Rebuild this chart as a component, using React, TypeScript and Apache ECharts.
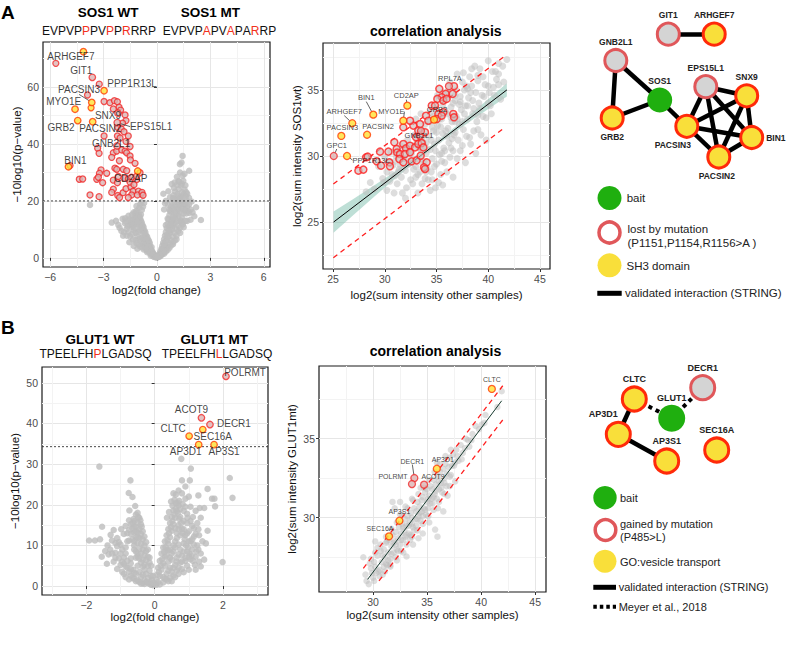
import React, { useEffect, useRef } from 'react';
import * as echarts from 'echarts';

// ---------------- DATA ----------------
const seqA_WT = 'EVPVPPPVPPRRRP';
const seqA_WT_red = [5, 8, 10];
const seqA_MT = 'EVPVPAPVAPARRP';
const seqA_MT_red = [5, 8, 11];
const seqB_WT = 'TPEELFHPLGADSQ';
const seqB_WT_red = [7];
const seqB_MT = 'TPEELFHLLGADSQ';
const seqB_MT_red = [7];

// Volcano A
const volcA_threshold = 20;
const volcA_gray = [
  [-0.05,0.2],[-0.1,0.6],[-0.15,1.0],[-0.2,1.5],[-0.25,2.1],[-0.3,2.7],[-0.35,3.3],[-0.4,4.0],[-0.45,4.6],[-0.5,5.3],[-0.55,6.0],[-0.6,6.8],[-0.65,7.6],[-0.7,8.5],[-0.75,9.3],[-0.8,10.2],[-0.85,11.0],[-0.9,12.0],[-0.95,12.9],[-1.0,13.8],[-1.05,14.8],[-1.1,15.6],[-1.15,16.5],
  [-0.2,0.5],[-0.3,1.2],[-0.4,1.9],[-0.5,2.6],[-0.6,3.4],[-0.7,4.2],[-0.8,5.0],[-0.9,5.9],[-1.0,6.8],[-1.1,7.7],[-1.2,8.8],[-1.3,9.8],[-1.4,10.8],[-1.5,11.5],[-1.25,12.5],[-1.35,13.4],[-0.35,0.8],[-0.55,2.0],[-0.75,3.0],[-0.95,4.0],[-1.15,5.2],[-1.35,6.4],[-1.5,7.5],[-1.6,9.0],[-1.7,10.2],[-0.45,3.0],[-0.65,4.8],[-0.85,7.0],[-1.05,9.2],[-1.25,10.5],[-1.15,11.8],[-0.95,9.8],[-0.75,6.5],[-1.45,13.0],[-1.2,14.2],[-0.9,15.2],[-0.85,16.8],[-0.78,18.0],[-0.95,18.8],[-0.72,19.3],[-1.0,17.5],[-1.3,16.0],[-1.6,14.8],[-1.93,13.7],[-1.79,13.9],[-2.17,11.6],[-2.54,12.4],[-3.76,18.6],[-1.8,12.2],[-2.0,9.5],[-1.9,7.8],[-1.55,5.5],[-1.3,4.2],[-1.1,3.2],[-0.25,1.8],[-0.15,0.3],
  [-0.3,3.8],[-0.4,5.2],[-0.5,6.5],[-0.6,7.8],[-0.7,9.6],[-0.8,11.4],[-0.9,13.2],[-1.0,15.0],[-1.1,14.0],[-1.2,15.8],[-0.45,6.0],[-0.55,7.4],[-0.65,9.0],[-0.75,10.8],[-0.85,12.4],[-0.95,14.2],[-1.05,12.0],[-1.15,13.4],[-1.25,14.6],[-1.35,11.5],[-1.45,12.2],[-1.55,13.5],[-1.65,11.2],[-1.75,12.8],[-0.6,5.5],[-0.7,7.0],[-0.8,8.4],[-0.9,10.4],[-1.0,11.5],[-1.1,12.8],[-0.5,4.0],[-0.4,3.0],[-0.3,2.2],[-0.2,1.2],[-0.1,0.9],[-0.35,1.6],[-0.55,2.5],[-0.65,3.2],[-0.85,3.8],[-1.0,4.8],[-1.2,6.2],[-1.4,8.4],[-1.7,7.8],[-1.85,9.0],[-2.1,10.6],[-2.3,13.0],[-1.4,15.2],[-1.15,18.2],[-0.88,19.6],
  [0.05,0.3],[0.1,0.8],[0.15,1.5],[0.2,2.3],[0.25,3.2],[0.3,4.2],[0.35,5.3],[0.4,6.5],[0.45,7.8],[0.5,9.1],[0.55,10.5],[0.6,12.0],[0.65,13.5],[0.7,15.0],[0.75,16.5],[0.8,18.0],[0.85,19.5],[0.9,21.0],
  [0.2,0.6],[0.3,1.3],[0.4,2.1],[0.5,3.0],[0.6,4.0],[0.7,5.1],[0.8,6.2],[0.9,7.4],[1.0,8.7],[1.1,10.0],[1.2,11.4],[1.3,12.8],[1.4,14.2],[1.5,15.6],[1.6,17.0],[1.7,18.2],[0.45,4.5],[0.55,6.0],[0.65,7.5],[0.75,9.0],[0.85,10.6],[0.95,12.2],[1.05,13.8],[1.15,15.4],[1.25,17.0],[1.35,18.6],[1.45,19.8],[0.7,11.0],[0.8,12.8],[0.9,14.5],[1.0,16.2],[1.1,18.0],[1.2,19.6],[1.3,21.0],[1.0,19.5],[0.95,20.8],[1.55,18.8],[1.65,20.2],[1.75,16.4],[1.81,15.8],[1.89,13.4],[2.47,13.3],[1.3,8.8],[1.1,6.5],[0.9,4.8],[0.35,2.7],[1.5,10.8],[1.7,13.0],[1.45,21.8],
  [0.3,3.0],[0.4,4.8],[0.5,6.0],[0.6,7.2],[0.7,8.8],[0.8,10.0],[0.9,11.3],[1.0,12.0],[1.1,13.2],[1.2,14.6],[1.3,16.2],[1.4,17.6],[1.5,19.0],[0.55,8.0],[0.65,9.6],[0.75,11.8],[0.85,13.4],[0.95,14.0],[1.05,15.6],[1.15,17.2],[1.25,18.8],[1.35,20.2],[0.5,11.5],[0.6,13.8],[0.7,16.8],[0.8,16.2],[0.9,17.4],[1.0,18.0],[1.1,20.4],[1.2,21.6],[1.5,22.4],[1.65,23.0],[1.4,26.0],[1.2,27.0],[1.55,29.5],[1.3,30.0],[1.0,26.5],[1.35,13.0],[1.45,11.8],[1.6,13.0],[1.65,15.6],[1.55,16.8],[1.8,18.8],[1.9,17.0],[2.0,16.0],[2.1,14.6],[1.95,19.8],[2.2,17.8],[0.4,1.5],[0.5,2.2],[0.6,2.8],[0.7,3.5],[0.8,4.4],[0.9,5.5],[1.0,6.0],[1.1,7.8],[1.2,9.5],[1.3,10.6],[1.4,12.4],[0.25,1.4],[0.35,2.0],[0.15,0.7],[0.1,0.3],[0.2,1.0],[-0.05,0.5],[0.0,0.1],[0.03,0.5],
  [1.44,35.8],[1.29,32.9],[1.38,33.5],[1.81,30.6],[1.12,28.5],[1.44,28.9],[0.83,25.9],[1.12,25.6],[1.48,27.1],[0.64,23.4],[0.36,22.5],[0.73,21.3],[0.92,22.0],[1.3,21.2],[1.62,21.6],[1.8,21.1],[1.02,23.3],[1.22,24.1],[1.35,25.4],[1.55,24.0],[1.7,22.5],[0.5,20.0],[0.62,18.6],[0.4,17.0],[0.45,19.2],[1.25,26.8],[1.6,25.5],[0.95,24.6],[1.15,22.4],[1.4,23.0],
];
const volcA_lost = [
  [-5.68,68.3],[-3.24,61.0],[-3.9,57.2],[-2.97,54.9],[-2.64,54.5],[-2.39,55.2],[-2.22,54.8],[-2.13,52.9],[-2.04,51.9],[-2.45,52.3],[-1.79,50.2],[-1.74,48.2],[-1.93,47.3],[-2.2,45.8],[-2.0,45.2],[-1.85,44.3],[-1.61,42.8],[-2.22,42.8],[-2.07,42.1],[-2.97,42.8],[-1.74,40.9],[-3.33,38.5],[-3.25,36.7],[-2.45,36.9],[-2.26,37.5],[-1.98,37.9],[-1.79,37.5],[-1.51,39.1],[-1.7,36.9],[-2.54,35.3],[-2.11,34.1],[-1.51,35.8],[-1.49,34.4],[-1.23,33.2],[-2.36,31.5],[-2.26,31.1],[-1.89,31.1],[-1.7,30.6],[-3.14,30.9],[-3.23,29.7],[-2.82,29.7],[-3.38,27.6],[-3.29,28.3],[-3.05,26.4],[-2.45,27.3],[-2.17,28.6],[-2.22,26.4],[-1.85,28.0],[-1.61,27.7],[-1.42,28.3],[-1.14,27.5],[-0.95,29.9],[-1.14,28.7],[-4.36,27.6],[-4.17,27.7],[-4.88,32.4],[-3.76,22.1],[-3.25,21.5],[-2.45,24.1],[-2.54,23.0],[-2.2,21.9],[-2.1,21.2],[-1.9,22.9],[-1.74,24.3],[-1.46,24.9],[-1.34,23.4],[-1.51,26.6],[-1.29,25.7],[-1.04,23.4],[-0.87,22.5],[-1.42,22.1],[-1.1,22.1],[-0.84,23.0],[-1.61,21.2],[-0.78,22.0],
];
const volcA_sh3 = [[-3.7,52.7]];
const volcA_lab_names = ['ARHGEF7','GIT1','PPP1R13L','PACSIN3','MYO1E','GRB2','SNX9','PACSIN2','EPS15L1','GNB2L1','BIN1','CD2AP'];
const volcA_lab_x = [-4.13,-3.63,-2.97,-3.66,-4.6,-4.45,-2.19,-3.61,-2.23,-2.24,-4.97,-1.08];
const volcA_lab_y = [72.4,63.4,58.7,54.6,52.2,48.2,50.8,47.8,47.5,39.3,32.0,30.5];
const volcA_lab_kind = ['sh3','lost','sh3','sh3','sh3','sh3','lost','sh3','lost','lost','sh3','sh3'];

// Correlation A
const corrA_gray = [
  [29.8,28.3],[30.2,28.8],[30.5,28.1],[30.8,29.3],[31.0,28.5],[31.2,27.9],[31.4,29.0],[31.6,28.4],[31.8,29.8],[32.0,28.9],[32.1,27.6],[32.3,29.4],[32.5,28.2],[32.6,30.2],[32.8,29.0],[33.0,28.4],[33.1,29.8],[33.3,30.6],[33.4,28.8],[33.6,29.5],[33.7,31.0],[33.9,28.3],[34.0,30.2],[34.1,29.1],[34.2,31.5],[34.4,30.5],[34.5,28.8],[34.6,29.8],[34.7,31.9],[34.8,30.9],[34.9,27.6],[35.0,29.4],[35.1,32.3],[35.2,31.2],[35.3,30.1],[35.4,28.6],[35.5,32.8],[35.6,31.7],[35.7,30.6],[35.8,29.5],[35.9,33.3],[36.0,28.8],[36.1,32.1],[36.2,31.0],[36.3,29.9],[36.4,33.7],[36.5,32.6],[36.6,30.4],[36.7,31.6],[36.8,34.2],[36.9,33.0],[37.0,29.8],[37.1,31.2],[37.2,32.4],[37.3,34.5],[37.4,33.5],[37.5,30.8],[37.6,32.0],[37.7,35.0],[37.8,33.8],[37.9,31.5],[38.0,32.8],[38.1,34.4],[38.3,30.9],[38.4,35.3],[38.5,33.2],[38.6,31.9],[38.8,34.8],[38.9,32.6],[39.0,35.7],[39.2,33.6],[39.3,31.6],[39.5,36.0],[39.6,34.5],[39.8,32.9],[40.0,35.3],[40.2,33.8],[40.4,36.4],[40.6,34.6],[40.7,36.4],[41.0,35.4],[41.2,34.3],[41.4,36.8],[41.8,37.3],[29.4,29.2],[30.0,29.9],[30.6,30.3],[31.1,30.0],[31.5,30.8],[32.2,31.2],[32.9,31.6],[33.5,32.0],[34.3,32.6],[35.0,33.4],[35.6,33.9],[36.2,34.5],[36.9,35.0],[37.5,35.6],[38.2,36.0],[32.0,26.8],[33.2,27.2],[34.4,27.4],[35.6,27.8],[36.6,28.4],[37.8,29.5],[38.8,30.2],[39.8,31.2],[33.8,29.6],[34.8,29.2],[35.8,30.4],[36.8,31.8],[34.2,28.2],[35.2,28.0],[30.9,27.2],[31.9,30.6],[32.4,30.8],[33.0,30.9],[33.6,31.4],[34.6,32.2],[35.3,32.8],[36.0,33.2],[36.6,34.0],[37.3,34.1],[38.0,35.1],[39.1,34.0],[40.1,34.8],[28.6,28.0],[29.0,27.5],[28.2,27.3],[33.5,33.2],[35.1,34.6],[37.0,36.2],[38.7,36.8],[36.3,35.6],[40.0,37.2],[41.0,37.0],[39.2,36.6],
  [30.5,29.6],[31.0,29.6],[31.5,29.3],[32.0,29.8],[32.5,29.5],[33.0,29.2],[33.5,30.5],[34.0,31.0],[34.5,31.2],[35.0,31.8],[35.5,30.2],[36.0,31.5],[36.5,31.3],[37.0,32.8],[37.5,32.6],[38.0,33.8],[38.5,34.2],[39.0,33.1],[39.5,33.0],[40.0,34.0],[40.5,35.2],[41.0,36.2],[31.7,27.2],[32.7,27.9],[33.6,27.9],[34.6,28.2],[35.5,29.6],[36.4,30.6],[37.3,30.4],[38.2,31.4],[39.0,32.0],[40.3,33.2],[33.2,28.6],[34.0,28.8],[34.9,30.4],[35.9,31.9],[36.8,32.6],[37.7,33.2],[38.6,33.6],[39.4,34.6],[40.8,35.8],[41.5,35.6],[32.3,30.2],[33.9,30.7],[35.4,32.2],[36.4,32.9],[37.2,33.9],[38.3,34.8],[39.7,35.4],[30.2,27.4],[31.3,28.8],[29.9,28.0],[30.7,28.6],[34.7,33.0],[35.8,33.5],[36.8,34.6],[37.9,35.3],[39.0,36.1],[33.9,32.4],[34.4,33.3],[36.1,34.9],[37.6,36.3],[38.4,36.6],[35.6,34.8],[33.0,32.8],
];
const corrA_lost = [
  [36.69,35.28],[35.27,35.08],[35.89,34.7],[35.5,34.45],[35.08,34.32],[35.66,34.19],[35.98,34.32],[36.56,34.7],[34.54,33.81],[34.86,33.81],[33.99,33.05],[34.21,32.67],[33.41,32.42],[32.76,32.3],[33.24,31.92],[35.18,33.18],[35.66,33.31],[36.62,33.18],[36.69,32.93],[35.02,32.8],[35.5,33.05],[32.44,32.67],[33.02,31.42],[33.41,31.54],[33.89,31.8],[31.79,32.17],
  [30.92,31.04],[29.54,30.33],[30.35,30.33],[31.15,30.53],[31.2,30.27],[31.79,30.91],[32.05,30.58],[32.44,30.78],[32.92,30.65],[33.24,30.91],[33.57,30.98],[33.73,30.65],[31.47,30.15],[31.95,30.15],[32.44,30.28],[31.41,29.77],[31.79,29.52],[32.6,29.6],[33.08,29.67],[33.47,30.02],[34.05,29.52],[33.79,29.14],[33.89,29.02],[29.22,29.6],[29.64,29.27],[30.44,29.52],[30.5,29.22],[28.19,29.9],[28.35,29.95],[27.45,28.89],[27.93,28.97],
];
const corrA_lab_names = ['RPL7A','CD2AP','BIN1','MYO1E','ARHGEF7','PACSIN3','PACSIN2','GPC1','PPP1R13L','GRB2','GNB2L1'];
const corrA_lab_x = [36.2,32.18,28.89,31.79,26.86,25.8,28.29,25.07,26.35,34.76,33.5];
const corrA_lab_y = [35.28,33.81,33.13,32.67,32.48,31.52,31.61,30.0,30.0,32.75,31.9];
const corrA_lab_kind = ['lost','sh3','sh3','sh3','sh3','sh3','sh3','lost','sh3','sh3','lost'];
const corrA_fit = [[25.05,25.0],[41.8,35.0]];
const corrA_upper = [[25.03,27.88],[41.5,37.5]];
const corrA_lower = [[25.03,22.3],[41.5,32.1]];
const corrA_ciX = [25.05,27,29,31,33,35,37,39,41.8];
const corrA_ciLo = [24.2,25.56,26.94,28.28,29.58,30.79,31.93,33.03,34.5];
const corrA_ciHi = [25.8,26.76,27.78,28.82,29.92,31.09,32.33,33.63,35.5];

// Volcano B
const volcB_threshold = 34.3;
const volcB_gray = [
  [-1.62,29.4],[-0.71,26.0],[-0.76,22.9],[-0.65,21.9],[-0.57,19.7],[-0.74,18.6],[-1.54,14.6],[-1.92,11.2],[-1.75,11.2],[0.78,31.3],[1.06,28.9],[0.8,26.0],[1.03,26.0],[1.55,23.9],[1.28,22.3],[1.68,21.5],[1.75,21.5],[2.2,26.6],[2.28,21.7],[1.77,19.6],[1.32,19.2],[1.45,19.2],[1.55,13.6],[1.99,5.9],
  [-1.29,12.6],[-1.1,11.8],[-1.2,13.8],[-0.98,14.0],[-0.9,12.8],[-1.38,10.0],[-1.3,9.0],[-1.15,8.2],[-1.0,10.2],[-0.85,9.5],[-1.05,6.8],[-0.9,5.5],[-1.2,6.0],[-0.8,4.5],[-0.7,6.8],[-0.75,11.2],[-0.6,9.0],[-0.55,7.0],[-0.5,5.0],[-0.62,4.0],[-0.45,3.5],[-0.4,2.2],[-0.35,2.8],[-0.3,1.5],[-0.25,1.0],[-0.2,0.8],[-0.15,0.5],[-0.1,0.3],[-0.05,0.2],
  [-0.1,2.5],[-0.15,3.8],[-0.2,5.0],[-0.25,6.4],[-0.3,7.6],[-0.35,9.0],[-0.4,10.4],[-0.45,11.8],[-0.5,13.2],[-0.55,14.6],[-0.6,16.0],[-0.5,15.6],[-0.45,14.0],[-0.4,12.8],[-0.35,11.5],[-0.3,10.0],[-0.25,8.6],[-0.2,7.2],[-0.15,5.8],[-0.4,8.0],[-0.45,9.2],[-0.5,10.6],[-0.55,12.0],[-0.6,13.2],[-0.65,14.2],[-0.7,15.2],[-0.3,5.2],[-0.35,6.5],[-0.5,8.0],[-0.6,11.0],[-0.8,13.0],[-0.85,14.8],[-0.62,16.5],[-0.55,17.6],[-0.42,16.2],[-0.38,14.6],
  [-0.95,3.5],[-0.85,2.2],[-0.7,2.6],[-0.6,1.8],[-0.5,1.4],[-0.55,3.0],[-0.75,3.5],[-1.4,5.5],[-1.55,7.2],[-1.35,7.8],[-1.45,8.6],[-1.6,11.5],[-1.1,4.2],
  [-0.2,2.0],[-0.25,3.0],[-0.3,4.0],[-0.35,4.8],[-0.4,5.8],[-0.45,6.8],[-0.5,7.2],[-0.55,8.5],[-0.6,10.0],[-0.65,11.5],[-0.7,12.8],[-0.75,13.8],[-0.8,11.0],[-0.85,8.0],[-0.9,7.0],[-0.95,9.0],[-1.0,8.0],[-1.05,10.8],[-1.1,9.8],[-1.15,10.6],[-1.25,11.2],[-0.7,5.6],[-0.8,6.2],[-0.9,3.0],[-1.0,5.2],[-0.65,2.0],[-0.75,1.6],[-0.45,1.0],[-0.35,0.7],[-0.55,1.2],[-0.3,0.5],[-0.4,0.6],[-0.6,3.2],[-0.7,4.2],[-0.85,4.8],[-0.95,6.0],[-1.15,7.0],[-1.25,8.0],[-0.5,12.0],[-0.55,13.5],[-0.65,15.5],[-0.45,16.8],[-0.5,18.0],[-0.35,13.5],[-0.3,12.2],[-0.25,10.8],[-0.2,9.0],[-0.15,7.0],[-0.1,5.0],[-0.05,2.5],[-0.08,1.5],[-0.12,1.0],[-0.03,0.8],[-0.6,14.6],[-0.75,16.2],[-0.4,15.2],[-0.48,17.0],
  [0.05,0.3],[0.1,1.0],[0.15,2.5],[0.2,4.0],[0.25,5.6],[0.3,7.2],[0.35,8.8],[0.4,10.4],[0.45,12.0],[0.5,13.6],[0.55,15.2],[0.6,16.8],[0.65,18.4],[0.7,19.8],[0.55,18.6],[0.5,17.0],[0.45,15.5],[0.4,14.0],[0.35,12.5],[0.3,11.0],[0.25,9.5],[0.2,8.0],[0.15,6.2],[0.1,4.5],[0.62,20.4],[0.72,21.0],[0.52,19.8],[0.48,20.8],[0.58,21.2],[0.42,18.2],[0.36,16.8],[0.82,20.2],[0.9,19.5],[0.75,17.0],[0.7,15.0],[0.85,16.0],[0.65,13.0],[0.8,14.0],[0.95,15.5],[0.6,11.0],[0.7,10.2],[0.9,12.5],[1.0,13.5],[0.55,8.5],[0.75,9.0],[0.85,10.5],[1.05,11.0],[1.15,12.2],[0.5,6.5],[0.65,7.0],[0.8,7.5],[0.95,8.5],[1.1,9.0],[1.25,10.0],[0.45,4.5],[0.6,5.2],[0.75,5.8],[0.9,6.2],[1.05,6.6],[1.2,7.2],[1.3,6.0],[0.35,3.0],[0.5,3.5],[0.65,3.8],[0.8,4.2],[1.0,4.0],[0.3,1.8],[0.45,2.0],[0.6,2.2],[0.25,0.9],[0.4,1.2],[0.15,0.4],[1.12,17.0],[1.25,15.5],[1.35,16.8],[1.28,14.0],[1.5,10.5],[1.35,8.0],[1.1,14.8],[0.95,17.8],[1.05,19.5],[1.2,18.5],[0.7,23.5],[0.62,22.5],[0.8,22.8],[0.55,22.8],[0.9,24.5],
  [0.02,0.5],[0.05,1.6],[0.08,2.8],[0.12,3.5],[0.18,5.0],[0.22,6.6],[0.28,8.4],[0.32,9.6],[0.38,11.2],[0.42,13.0],[0.48,14.5],[0.52,16.0],[0.58,17.6],[0.62,19.0],[0.68,18.0],[0.72,16.5],[0.78,15.5],[0.82,13.0],[0.88,11.5],[0.92,10.0],[0.98,9.5],[1.02,8.0],[1.08,7.5],[1.12,6.2],[1.18,5.2],[1.22,8.5],[1.28,9.0],[0.25,2.2],[0.35,1.6],[0.5,1.2],[0.55,2.6],[0.7,3.0],[0.85,3.4],[0.95,5.0],[0.7,4.5],[0.55,4.5],[0.4,3.8],[0.3,5.0],[0.4,6.0],[0.45,7.0],[0.5,8.0],[0.55,10.0],[0.6,9.5],[0.65,11.8],[0.75,12.5],[0.85,14.0],[0.95,13.0],[1.0,11.0],[1.1,11.5],[1.15,10.2],[1.2,12.8],[0.35,7.5],[0.45,9.0],[0.4,8.8],[0.6,14.2],[0.7,14.0],[0.75,19.0],[0.68,20.5],[0.85,18.5],[0.9,21.5],[1.0,22.0],[0.96,16.8],[1.05,16.0],[1.15,14.2],[1.3,12.5],[1.4,11.0],[1.45,6.5],[1.2,4.0],[1.35,4.8],[0.65,6.0],[0.8,6.0],[0.9,7.0],[1.0,7.2],[0.7,7.8],[0.85,8.5],
];
const volcB_lab_names = ['POLRMT','ACOT9','DECR1','SEC16A','CLTC','AP3D1','AP3S1'];
const volcB_lab_x = [2.09,1.37,1.62,1.41,1.01,1.29,1.74];
const volcB_lab_y = [51.6,41.4,39.75,38.5,36.9,34.8,34.8];
const volcB_lab_kind = ['lost','lost','lost','sh3','sh3','sh3','sh3'];

// Correlation B
const corrB_gray = [
  [29.3,26.4],[29.6,25.8],[29.8,26.8],[30.0,26.2],[30.1,27.2],[30.3,26.5],[30.4,27.6],[30.6,26.7],[30.7,27.9],[30.8,27.2],[31.0,26.9],[31.0,28.0],[31.1,27.5],[31.2,28.4],[31.3,27.0],[31.4,27.8],[31.5,28.6],[31.6,27.4],[31.7,28.2],[31.8,28.9],[31.9,27.8],[32.0,28.5],[32.1,29.1],[32.2,28.0],[32.3,28.7],[32.4,29.4],[32.5,28.3],[32.5,31.0],[32.6,29.0],[32.7,29.6],[32.8,28.6],[32.9,29.2],[33.0,29.9],[33.0,28.8],[33.1,29.5],[33.2,30.1],[33.3,29.0],[33.4,29.7],[33.5,30.3],[33.5,28.9],[33.6,30.0],[33.7,29.4],[33.8,30.6],[33.9,29.9],[34.0,30.4],[34.0,29.5],[34.1,31.0],[34.2,30.1],[34.3,30.7],[34.4,29.8],[34.5,31.1],[34.5,30.4],[34.6,31.3],[34.7,30.6],[34.8,31.6],[34.9,30.2],[35.0,31.0],[35.0,31.8],[35.1,30.6],[35.2,31.4],[35.3,32.0],[35.4,31.2],[35.5,31.8],[35.5,30.9],[35.6,32.4],[35.7,31.5],[35.8,32.1],[35.9,31.2],[36.0,32.6],[36.1,31.8],[36.2,32.9],[36.3,32.2],[36.4,31.6],[36.5,33.1],[36.6,32.5],[36.7,33.4],[36.8,32.0],[37.0,33.2],[37.1,33.8],[37.2,32.7],[37.4,34.0],[37.5,33.3],[37.7,34.3],[37.9,33.6],[38.1,34.6],[38.3,34.1],[38.6,35.0],[38.9,34.5],[39.2,35.3],[39.5,35.8],[40.06,35.9],[40.4,36.5],[41.5,37.0],[41.9,38.0],
  [29.1,27.5],[29.7,27.1],[32.5,30.2],[35.74,29.25],[35.96,28.8],[36.5,30.4],[31.27,28.5],[33.43,28.6],[34.2,28.7],[33.1,27.55],[30.2,28.5],[32.0,30.6],[31.8,31.0],[30.9,26.4],[31.6,26.9],[32.2,27.3],[32.8,27.8],[33.7,28.3],[34.6,29.0],[35.2,29.7],[36.0,30.6],[36.9,31.4],[37.6,32.3],[34.4,31.9],[33.6,31.2],[35.9,33.5],[33.0,30.7],
  [29.4,26.0],[29.9,26.5],[30.2,26.9],[30.5,26.6],[30.9,27.6],[31.2,27.1],[31.4,27.3],[31.7,27.7],[31.9,28.4],[32.1,28.3],[32.3,27.9],[32.6,28.6],[32.8,29.4],[33.1,28.9],[33.3,29.5],[33.6,29.6],[33.8,29.2],[34.1,29.9],[34.3,30.3],[34.6,30.1],[34.8,30.5],[35.1,31.2],[35.3,30.9],[35.6,31.3],[35.8,31.7],[36.1,32.3],[36.3,31.9],[36.6,32.2],[36.8,32.8],[37.1,32.6],[37.3,33.3],[37.6,33.5],[37.8,33.9],[38.2,33.7],[38.5,34.4],[38.8,34.9],[39.1,34.9],[39.8,35.6],[40.3,36.0],[30.1,26.0],[30.6,26.3],[31.1,26.6],[31.6,27.0],[32.1,27.5],[32.6,27.9],[33.1,28.3],[33.6,28.8],[34.1,29.2],[34.6,29.6],[35.1,30.1],[35.6,30.5],[36.1,31.0],[36.6,31.5],[37.1,32.0],[30.2,27.8],[30.7,28.3],[31.2,28.8],[31.7,29.3],[32.2,29.7],[32.7,30.2],[33.2,30.6],[33.7,31.1],[34.2,31.5],[34.7,31.9],[35.2,32.4],[35.7,32.9],[36.2,33.4],[36.7,33.9],[37.2,34.3],[29.8,27.4],[30.4,28.1],
];
const corrB_lab_names = ['CLTC','AP3D1','DECR1','POLRMT','ACOT9','AP3S1','SEC16A'];
const corrB_lab_x = [40.99,35.9,33.82,33.6,34.72,32.44,31.48];
const corrB_lab_y = [38.15,33.1,32.51,32.13,32.09,29.81,28.82];
const corrB_lab_kind = ['sh3','sh3','lost','lost','lost','sh3','sh3'];
const corrB_fit = [[29.5,26.1],[41.9,37.4]];
const corrB_upper = [[29.1,26.8],[42.0,38.35]];
const corrB_lower = [[30.55,26.0],[42.07,36.25]];

// Networks
const netA_names = ['GIT1','ARHGEF7','GNB2L1','SOS1','GRB2','EPS15L1','SNX9','PACSIN3','BIN1','PACSIN2'];
const netA_kind = ['lost','sh3','lost','bait','sh3','lost','sh3','sh3','sh3','sh3'];
const netA_links = [
  ['GIT1','ARHGEF7'],['GNB2L1','SOS1'],['GNB2L1','GRB2'],['GRB2','SOS1'],['SOS1','PACSIN3'],
  ['PACSIN3','EPS15L1'],['PACSIN3','SNX9'],['PACSIN3','BIN1'],['PACSIN3','PACSIN2'],
  ['EPS15L1','SNX9'],['EPS15L1','BIN1'],['EPS15L1','PACSIN2'],['SNX9','BIN1'],['SNX9','PACSIN2'],['BIN1','PACSIN2'],
];
const netB_names = ['CLTC','DECR1','GLUT1','AP3D1','AP3S1','SEC16A'];
const netB_kind = ['sh3','lost','bait','sh3','sh3','sh3'];
const netB_links = [['CLTC','AP3D1'],['AP3D1','AP3S1'],['CLTC','GLUT1'],['GLUT1','DECR1']];
const netB_linkKind = ['validated','validated','meyer','meyer'];

// ---------------- LAYOUT (positions / styles) ----------------
const FONT = '"Liberation Sans", Arial, Helvetica, sans-serif';
const YELLOW = '#f9df3a';
const RED_BORDER = '#ff2a0a';
const PINK_BORDER = '#e0575a';
const GREEN = '#1faf0f';
const GRAYNODE = '#d4d4d4';

const netA_pos = {
  GIT1: [668.3, 34.2], ARHGEF7: [714.2, 34.2], GNB2L1: [615.8, 60.5], SOS1: [659.7, 100], GRB2: [612.2, 118],
  EPS15L1: [705.8, 86.7], SNX9: [746.7, 95.8], PACSIN3: [686.8, 126.3], BIN1: [751.7, 137.5], PACSIN2: [718.8, 157],
};
const netA_lab = {
  GIT1: ['top', [0, 0]], ARHGEF7: ['top', [0, 0]], GNB2L1: ['top', [0, 0]], SOS1: ['top', [0, 0]], GRB2: ['bottom', [0, 0]],
  EPS15L1: ['top', [0, 0]], SNX9: ['top', [0, 0]], PACSIN3: ['bottom', [-14, 0]], BIN1: ['right', [0, 0]], PACSIN2: ['bottom', [-2, 0]],
};
const netB_pos = {
  CLTC: [634.3, 399], DECR1: [702.7, 387.7], GLUT1: [671.7, 418.3], AP3D1: [618.3, 434.3], AP3S1: [666.7, 461], SEC16A: [716.7, 450],
};
const netB_lab = {
  CLTC: ['top', [0, 0]], DECR1: ['top', [0, 0]], GLUT1: ['top', [0, 0]], AP3D1: ['top', [-15, 0]], AP3S1: ['top', [0, 0]], SEC16A: ['top', [0, 0]],
};

const volcA_off = {
  ARHGEF7: [-12.5, 5], GIT1: [-11, -6.6], PPP1R13L: [28, -7.4], PACSIN3: [-12.7, -13], MYO1E: [-11.3, -7.6], GRB2: [-16.7, 7],
  SNX9: [-10, 2.7], PACSIN2: [7.6, 6.6], EPS15L1: [34, 4], GNB2L1: [-6, -2], BIN1: [7, -6], CD2AP: [-7, 7],
};
const volcA_leaders = ['PACSIN3', 'EPS15L1'];
const volcB_off = {
  POLRMT: [19, -4], ACOT9: [-10, -8], DECR1: [24, -1], SEC16A: [10, 7], CLTC: [-16, -8], AP3D1: [-13, 7], AP3S1: [10, 7],
};
const corrA_off = {
  RPL7A: [1, -8], CD2AP: [-1, -10], BIN1: [-7, -17], MYO1E: [-12, -9], ARHGEF7: [-8, -11.6], PACSIN3: [1, -8],
  PACSIN2: [11, -8], GPC1: [3, -11], PPP1R13L: [24, 4], GRB2: [3, -10], GNB2L1: [-2, 5],
};
const corrA_leaders = ['CD2AP', 'BIN1', 'MYO1E', 'ARHGEF7', 'GPC1', 'PPP1R13L'];
const corrB_off = {
  CLTC: [0, -9], AP3D1: [6, -9], DECR1: [-2, -17], POLRMT: [-19, -8], ACOT9: [9, -8], AP3S1: [0, -9], SEC16A: [-9, -8],
};
const corrB_leaders = ['DECR1'];

const fmtMinus = (v) => (v < 0 ? '\u2212' + Math.abs(v) : String(v));

function axisPair(kind, grid, min, max, major, minor, name, nameGap) {
  const main = {
    type: 'value', gridIndex: grid, min, max,
    position: kind === 'x' ? 'bottom' : 'left',
    name, nameLocation: 'middle', nameGap,
    nameTextStyle: { fontFamily: FONT, fontSize: 11.5, color: '#111' },
    axisLine: { show: false },
    axisTick: { show: true, length: 3, customValues: major, lineStyle: { color: '#333', width: 1 } },
    axisLabel: { show: true, customValues: major, formatter: fmtMinus, color: '#4d4d4d', fontFamily: FONT, fontSize: 10.5, margin: 4 },
    splitLine: { show: true, lineStyle: { color: '#e6e6e6', width: 1 } },
  };
  const minorAx = {
    type: 'value', gridIndex: grid, min, max,
    position: kind === 'x' ? 'top' : 'right',
    axisLine: { show: false },
    axisTick: { show: false, customValues: minor },
    axisLabel: { show: false },
    splitLine: { show: true, lineStyle: { color: '#f3f3f3', width: 1 } },
  };
  return [main, minorAx];
}

const ringStyle = { color: '#dcb4b4', borderColor: '#f02a2a', borderWidth: 1.3 };
const yellowStyle = { color: '#ffe135', borderColor: '#ff3b00', borderWidth: 1.3 };

function labeledSeries(axis, names, xs, ys, kinds, offsets, leaders, fontSize, size) {
  return {
    type: 'scatter', xAxisIndex: axis, yAxisIndex: axis, symbolSize: size, silent: true, z: 5,
    data: names.map((n, i) => ({
      name: n, value: [xs[i], ys[i]],
      itemStyle: kinds[i] === 'sh3' ? yellowStyle : ringStyle,
      labelLine: { show: leaders.indexOf(n) >= 0, lineStyle: { color: '#222', width: 0.7 } },
    })),
    label: { show: true, position: 'inside', formatter: '{b}', fontSize, fontFamily: FONT, color: '#111' },
    labelLine: { show: false, lineStyle: { color: '#222', width: 0.7 } },
    labelLayout: (p) => {
      const o = offsets[names[p.dataIndex]] || [0, 0];
      return { dx: o[0], dy: o[1] };
    },
  };
}

function lineSeries(axis, data, color, width, type) {
  return {
    type: 'line', xAxisIndex: axis, yAxisIndex: axis, data, showSymbol: false, symbol: 'none', silent: true,
    lineStyle: { color, width, type }, z: 3,
  };
}

function nodeStyle(kind, big) {
  if (kind === 'bait') return { symbolSize: big ? 27 : 25, itemStyle: { color: GREEN, borderWidth: 0 } };
  if (kind === 'lost') return { symbolSize: big ? 24 : 22, itemStyle: { color: GRAYNODE, borderColor: PINK_BORDER, borderWidth: 3 } };
  return { symbolSize: big ? 24 : 22, itemStyle: { color: YELLOW, borderColor: RED_BORDER, borderWidth: 3 } };
}

function graphSeries(names, kinds, pos, labs, links, linkKinds, big) {
  return {
    type: 'graph', coordinateSystem: 'cartesian2d', xAxisIndex: 8, yAxisIndex: 8, layout: 'none', silent: true,
    emphasis: { disabled: true },
    data: names.map((n, i) => {
      const st = nodeStyle(kinds[i], big);
      return {
        name: n, value: pos[n], symbolSize: st.symbolSize, itemStyle: st.itemStyle,
        label: { show: true, position: labs[n][0], offset: labs[n][1], distance: 2 },
      };
    }),
    links: links.map((l, i) => ({
      source: names.indexOf(l[0]), target: names.indexOf(l[1]),
      lineStyle: linkKinds && linkKinds[i] === 'meyer' ? { type: [4, 4], width: 4, color: '#000', opacity: 1 } : { width: 4.5, color: '#000', opacity: 1 },
    })),
    lineStyle: { color: '#000', width: 4.5, opacity: 1, curveness: 0 },
    label: { show: true, formatter: '{b}', fontSize: big ? 9 : 8.5, fontWeight: 'bold', color: '#222', fontFamily: FONT },
    z: 4,
  };
}

function seqRich(seq, red) {
  let s = '';
  for (let i = 0; i < seq.length; i++) s += (red.indexOf(i) >= 0 ? '{r|' : '{k|') + seq[i] + '}';
  return s;
}

function textEl(text, x, y, size, weight, align, color) {
  return {
    type: 'text', x, y, silent: true,
    style: {
      text, fontSize: size, fontWeight: weight || 'normal', fontFamily: FONT, fill: color || '#111',
      textAlign: align || 'center', textVerticalAlign: 'middle', align: align || 'center', verticalAlign: 'middle',
    },
  };
}

function seqEl(seq, red, x, y) {
  return {
    type: 'text', x, y, silent: true,
    style: {
      text: seqRich(seq, red), fontSize: 12, fontFamily: FONT, fill: '#111',
      textAlign: 'center', textVerticalAlign: 'middle', align: 'center', verticalAlign: 'middle',
      rich: {
        k: { fill: '#111', color: '#111', fontSize: 12, fontFamily: FONT },
        r: { fill: '#f2311d', color: '#f2311d', fontSize: 12, fontFamily: FONT },
      },
    },
  };
}

function circleEl(cx, cy, r, fill, stroke, lw) {
  return { type: 'circle', silent: true, shape: { cx, cy, r }, style: { fill, stroke: stroke || null, lineWidth: lw || 0 } };
}
function lineEl(x1, y1, x2, y2, w, dash) {
  return { type: 'line', silent: true, shape: { x1, y1, x2, y2 }, style: { stroke: '#000', lineWidth: w, lineDash: dash || null } };
}

function buildOption() {
  const [ax0, ax0m] = axisPair('x', 0, -6.4, 6.35, [-6, -3, 0, 3, 6], [-4.5, -1.5, 1.5, 4.5], 'log2(fold change)', 17);
  const [ay0, ay0m] = axisPair('y', 0, -3.2, 75.8, [0, 20, 40, 60], [10, 30, 50, 70], '\u221210log10(p\u2212value)', 18);
  const [ax1, ax1m] = axisPair('x', 1, 24.03, 45.97, [25, 30, 35, 40, 45], [27.5, 32.5, 37.5, 42.5], 'log2(sum intensity other samples)', 20);
  const [ay1, ay1m] = axisPair('y', 1, 21.45, 38.55, [25, 30, 35], [22.5, 27.5, 32.5, 37.5], 'log2(sum intensity SOS1wt)', 19);
  const [ax2, ax2m] = axisPair('x', 2, -3.3, 3.32, [-2, 0, 2], [-3, -1, 1, 3], 'log2(fold change)', 16);
  const [ay2, ay2m] = axisPair('y', 2, -2.2, 53.9, [0, 10, 20, 30, 40, 50], [5, 15, 25, 35, 45], '\u221210log10(p\u2212value)', 21);
  const [ax3, ax3m] = axisPair('x', 3, 25, 46, [30, 35, 40, 45], [27.5, 32.5, 37.5, 42.5], 'log2(sum intensity other samples)', 17);
  const [ay3, ay3m] = axisPair('y', 3, 25.3, 39.6, [30, 35], [27.5, 32.5, 37.5], 'log2(sum intensity GLUT1mt)', 21);
  const netX = { type: 'value', gridIndex: 4, min: 0, max: 791, show: false };
  const netY = { type: 'value', gridIndex: 4, min: 0, max: 648, inverse: true, show: false };

  const gridBase = { show: true, borderColor: '#1a1a1a', borderWidth: 1.2, backgroundColor: 'transparent' };

  const grayV = { color: '#bdbdbd' };
  const series = [
    // Volcano A
    { type: 'scatter', xAxisIndex: 0, yAxisIndex: 0, data: volcA_gray, symbolSize: 6.5, itemStyle: grayV, silent: true },
    lineSeries(0, [[-6.4, volcA_threshold], [6.35, volcA_threshold]], '#333', 0.9, [2, 2]),
    { type: 'scatter', xAxisIndex: 0, yAxisIndex: 0, data: volcA_lost, symbolSize: 6, itemStyle: ringStyle, silent: true, z: 4 },
    { type: 'scatter', xAxisIndex: 0, yAxisIndex: 0, data: volcA_sh3, symbolSize: 6, itemStyle: yellowStyle, silent: true, z: 4 },
    labeledSeries(0, volcA_lab_names, volcA_lab_x, volcA_lab_y, volcA_lab_kind, volcA_off, volcA_leaders, 10, 6.5),
    // Correlation A
    {
      type: 'custom', xAxisIndex: 2, yAxisIndex: 2, silent: true, z: 2,
      data: corrA_ciX.map((x, i) => [x, corrA_ciLo[i], corrA_ciHi[i]]),
      encode: { x: 0, y: [1, 2] },
      renderItem: (params, api) => {
        if (params.dataIndex !== 0) return { type: 'group', children: [] };
        const pts = [];
        for (let i = 0; i < corrA_ciX.length; i++) pts.push(api.coord([corrA_ciX[i], corrA_ciHi[i]]));
        for (let i = corrA_ciX.length - 1; i >= 0; i--) pts.push(api.coord([corrA_ciX[i], corrA_ciLo[i]]));
        return { type: 'polygon', shape: { points: pts }, style: { fill: 'rgba(110,185,165,0.45)' } };
      },
    },
    { type: 'scatter', xAxisIndex: 2, yAxisIndex: 2, data: corrA_gray, symbolSize: 7, itemStyle: { color: 'rgba(190,190,190,0.65)' }, silent: true },
    lineSeries(2, corrA_fit, '#000', 1, 'solid'),
    lineSeries(2, corrA_upper, '#ff2020', 1.3, [5, 4]),
    lineSeries(2, corrA_lower, '#ff2020', 1.3, [5, 4]),
    { type: 'scatter', xAxisIndex: 2, yAxisIndex: 2, data: corrA_lost, symbolSize: 7, itemStyle: { color: 'rgba(205,190,190,0.8)', borderColor: '#ff2020', borderWidth: 1.5 }, silent: true, z: 4 },
    labeledSeries(2, corrA_lab_names, corrA_lab_x, corrA_lab_y, corrA_lab_kind, corrA_off, corrA_leaders, 7.5, 7),
    // Volcano B
    { type: 'scatter', xAxisIndex: 4, yAxisIndex: 4, data: volcB_gray, symbolSize: 6.5, itemStyle: grayV, silent: true },
    lineSeries(4, [[-3.3, volcB_threshold], [3.32, volcB_threshold]], '#333', 0.9, [2, 2]),
    labeledSeries(4, volcB_lab_names, volcB_lab_x, volcB_lab_y, volcB_lab_kind, volcB_off, [], 10, 6.5),
    // Correlation B
    { type: 'scatter', xAxisIndex: 6, yAxisIndex: 6, data: corrB_gray, symbolSize: 6.5, itemStyle: { color: 'rgba(185,185,185,0.6)' }, silent: true },
    lineSeries(6, corrB_fit, '#163a2e', 1, 'solid'),
    lineSeries(6, corrB_upper, '#ff2020', 1.3, [5, 4]),
    lineSeries(6, corrB_lower, '#ff2020', 1.3, [5, 4]),
    labeledSeries(6, corrB_lab_names, corrB_lab_x, corrB_lab_y, corrB_lab_kind, corrB_off, corrB_leaders, 7, 7),
    // Networks
    graphSeries(netA_names, netA_kind, netA_pos, netA_lab, netA_links, null, false),
    graphSeries(netB_names, netB_kind, netB_pos, netB_lab, netB_links, netB_linkKind, true),
  ];

  const graphic = [
    textEl('A', 1, 12, 19, 'bold', 'left', '#000'),
    textEl('B', 1, 327, 19, 'bold', 'left', '#000'),
    textEl('SOS1 WT', 108, 12.5, 13.5, 'bold', 'center', '#000'),
    textEl('SOS1 MT', 210.3, 12.5, 13.5, 'bold', 'center', '#000'),
    seqEl(seqA_WT, seqA_WT_red, 99, 31),
    seqEl(seqA_MT, seqA_MT_red, 219.5, 31),
    textEl('correlation analysis', 435.8, 31, 14, 'bold', 'center', '#000'),
    textEl('GLUT1 WT', 100, 339.3, 13.5, 'bold', 'center', '#000'),
    textEl('GLUT1 MT', 214.2, 339.3, 13.5, 'bold', 'center', '#000'),
    seqEl(seqB_WT, seqB_WT_red, 95.5, 354),
    seqEl(seqB_MT, seqB_MT_red, 217, 354),
    textEl('correlation analysis', 435.5, 350.7, 14, 'bold', 'center', '#000'),
    // Legend A
    circleEl(609.5, 198, 12, GREEN),
    circleEl(609.5, 232.5, 10.5, '#fff', PINK_BORDER, 3.5),
    circleEl(609.5, 265.3, 12, YELLOW),
    lineEl(597.3, 293.3, 621.7, 293.3, 5),
    textEl('bait', 626.7, 198, 11.5, 'normal', 'left', '#222'),
    textEl('lost by mutation', 627.5, 228.5, 11.5, 'normal', 'left', '#222'),
    textEl('(P1151,P1154,R1156>A )', 627.5, 242.5, 11.5, 'normal', 'left', '#222'),
    textEl('SH3 domain', 626.5, 266, 11.5, 'normal', 'left', '#222'),
    textEl('validated interaction (STRING)', 625, 292.5, 11.5, 'normal', 'left', '#222'),
    // Legend B
    circleEl(605, 497.7, 11.7, GREEN),
    circleEl(605.5, 530, 10.3, '#fff', PINK_BORDER, 3.5),
    circleEl(605, 561.3, 11.5, YELLOW),
    lineEl(593.3, 587.3, 616, 587.3, 5),
    lineEl(593.3, 606.7, 616, 606.7, 4, [3.5, 3]),
    textEl('bait', 620, 497.5, 11, 'normal', 'left', '#222'),
    textEl('gained by mutation', 620, 523.5, 11, 'normal', 'left', '#222'),
    textEl('(P485>L)', 620, 537, 11, 'normal', 'left', '#222'),
    textEl('GO:vesicle transport', 620, 561.5, 11, 'normal', 'left', '#222'),
    textEl('validated interaction (STRING)', 618.7, 587, 11, 'normal', 'left', '#222'),
    textEl('Meyer et al., 2018', 618.7, 606.5, 11, 'normal', 'left', '#222'),
  ];

  return {
    animation: false,
    backgroundColor: '#ffffff',
    textStyle: { fontFamily: FONT },
    grid: [
      { ...gridBase, left: 43, top: 42, width: 227, height: 225 },
      { ...gridBase, left: 323, top: 43, width: 227, height: 226 },
      { ...gridBase, left: 42, top: 367, width: 226, height: 228 },
      { ...gridBase, left: 319, top: 366, width: 227, height: 226 },
      { left: 0, top: 0, width: 791, height: 648, show: false },
    ],
    xAxis: [ax0, ax0m, ax1, ax1m, ax2, ax2m, ax3, ax3m, netX],
    yAxis: [ay0, ay0m, ay1, ay1m, ay2, ay2m, ay3, ay3m, netY],
    series,
    graphic,
  };
}

export default function App() {
  const ref = useRef(null);
  useEffect(() => {
    if (!ref.current) return;
    const chart = echarts.init(ref.current, null, { renderer: 'svg' });
    chart.setOption(buildOption());
    return () => chart.dispose();
  }, []);
  return <div ref={ref} style={{ position: 'absolute', left: 0, top: 0, width: 791, height: 648 }} />;
}
